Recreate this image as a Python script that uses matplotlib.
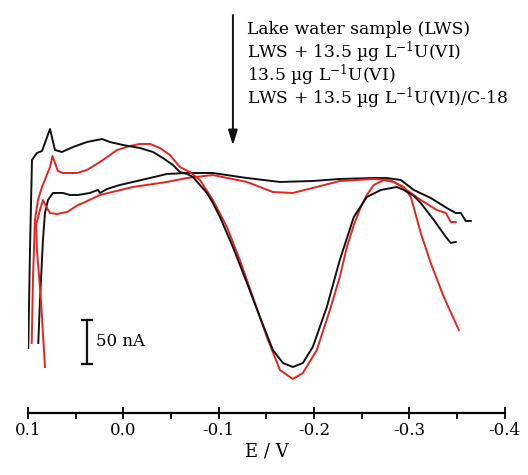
import matplotlib
matplotlib.use("Agg")
import matplotlib.pyplot as plt
from matplotlib.ticker import FixedLocator

plt.rcParams['font.family'] = ['DejaVu Serif']
plt.rcParams['mathtext.fontset'] = 'dejavuserif'
plt.rcParams['axes.unicode_minus'] = False

# ---- data (E in V, I in nA, arbitrary offset) ----
# black curve with U(VI) peak
E_lws_u = [0.0997, 0.0979, 0.0958, 0.0906, 0.0853, 0.0769, 0.0717, 0.0644, 0.0528, 0.0382,
           0.0224, 0.0140, 0.0004, -0.0174, -0.0310, -0.0415, -0.0520, -0.0593, -0.0667, -0.0730,
           -0.0803, -0.0876, -0.0939, -0.1013, -0.1149, -0.1296, -0.1432, -0.1568, -0.1673, -0.1778,
           -0.1883, -0.1987, -0.2134, -0.2270, -0.2417, -0.2553, -0.2700, -0.2868, -0.2941, -0.3046,
           -0.3119, -0.3256, -0.3382, -0.3434, -0.3486]
I_lws_u = [-111.4, 0.0, 102.3, 110.2, 112.5, 137.5, 113.6, 111.4, 117.0, 122.7,
           126.1, 122.7, 119.3, 115.9, 111.4, 104.5, 96.6, 88.6, 86.4, 83.0,
           73.9, 64.8, 53.4, 37.5, 3.4, -37.5, -76.1, -113.6, -128.4, -133.0,
           -128.4, -110.2, -64.8, -11.4, 37.5, 60.2, 68.2, 71.6, 68.2, 61.4,
           53.4, 34.1, 14.8, 8.0, 9.1]

# red curve with U(VI) peak
E_u = [0.0961, 0.0948, 0.0927, 0.0895, 0.0853, 0.0811, 0.0769, 0.0743, 0.0717, 0.0686,
       0.0633, 0.0486, 0.0382, 0.0245, 0.0067, -0.0069, -0.0174, -0.0279, -0.0384, -0.0488,
       -0.0593, -0.0698, -0.0803, -0.0939, -0.1086, -0.1222, -0.1358, -0.1505, -0.1642, -0.1778,
       -0.1883, -0.2029, -0.2166, -0.2270, -0.2344, -0.2417, -0.2491, -0.2553, -0.2627, -0.2732,
       -0.2836, -0.2941, -0.3015, -0.3119, -0.3224, -0.3361, -0.3518]
I_u = [-105.7, -34.1, 34.1, 56.8, 71.6, 83.0, 94.3, 106.8, 98.9, 89.8,
       87.5, 87.5, 90.9, 100.0, 113.6, 118.2, 120.5, 120.5, 115.9, 108.0,
       94.3, 88.6, 79.5, 56.8, 26.1, -11.4, -53.4, -98.9, -136.4, -146.6,
       -139.8, -113.6, -68.2, -30.7, 3.4, 28.4, 48.9, 62.5, 73.9, 79.5,
       77.3, 71.6, 60.2, 19.3, -14.8, -53.4, -90.9]

# black flat curve
E_lws = [0.0892, 0.0874, 0.0843, 0.0822, 0.0790, 0.0738, 0.0633, 0.0560, 0.0476, 0.0350,
         0.0298, 0.0266, 0.0245, 0.0172, 0.0036, -0.0101, -0.0279, -0.0457, -0.0667, -0.0939,
         -0.1296, -0.1642, -0.1987, -0.2270, -0.2627, -0.2763, -0.2910, -0.3046, -0.3224, -0.3392,
         -0.3486, -0.3539, -0.3591, -0.3644]
I_lws = [-105.7, -56.8, 11.4, 42.0, 56.8, 64.8, 64.8, 62.5, 62.5, 64.8,
         67.0, 68.2, 64.8, 69.3, 73.9, 77.3, 81.8, 86.4, 87.5, 87.5,
         81.8, 77.3, 78.4, 80.7, 81.8, 81.8, 79.5, 68.2, 59.1, 47.7,
         42.0, 42.0, 33.0, 33.0]

# red flat curve
E_c18 = [0.0822, 0.0864, 0.0906, 0.0916, 0.0874, 0.0843, 0.0801, 0.0769, 0.0696, 0.0591,
         0.0476, 0.0423, 0.0245, -0.0101, -0.0457, -0.0667, -0.0939, -0.1296, -0.1568, -0.1778,
         -0.1987, -0.2270, -0.2627, -0.2805, -0.2941, -0.3119, -0.3287, -0.3382, -0.3434, -0.3486]
I_c18 = [-133.0, -56.8, 0.0, 28.4, 45.5, 56.8, 47.7, 42.0, 40.9, 43.2,
         51.1, 53.4, 62.5, 71.6, 77.3, 81.8, 85.2, 77.3, 65.9, 64.8,
         70.5, 78.4, 80.7, 79.5, 70.5, 56.8, 45.5, 42.0, 31.8, 31.8]

legend_lines = [
    "Lake water sample (LWS)",
    r"LWS + 13.5 µg L$^{\mathregular{-1}}$U(VI)",
    r"13.5 µg L$^{\mathregular{-1}}$U(VI)",
    r"LWS + 13.5 µg L$^{\mathregular{-1}}$U(VI)/C-18",
]
legend_I = [245.0, 218.5, 192.5, 166.0]   # baseline positions (nA scale)

x_ticks = [0.1, 0.0, -0.1, -0.2, -0.3, -0.4]
x_tick_labels = ["0.1", "0.0", "-0.1", "-0.2", "-0.3", "-0.4"]
x_minor = [0.05, -0.05, -0.15, -0.25, -0.35]

scale_E = 0.0382
scale_I = (-129.5, -79.5)
scale_label = "50 nA"

arrow_E = -0.1149
arrow_I = (267.0, 119.0)
legend_E = -0.1296

BLACK = "#111111"
RED = "#e8231e"

fig = plt.figure(figsize=(5.28, 4.75), dpi=100)
ax = fig.add_axes([0.053, 0.1312, 0.903, 0.8688])

lw = 1.4
ax.plot(E_lws, I_lws, color=BLACK, lw=lw)
ax.plot(E_c18, I_c18, color=RED, lw=lw)
ax.plot(E_u, I_u, color=RED, lw=lw)
ax.plot(E_lws_u, I_lws_u, color=BLACK, lw=lw)

# scale bar
ax.plot([scale_E, scale_E], list(scale_I), color=BLACK, lw=1.6)
ax.plot([scale_E, scale_E], list(scale_I), color=BLACK, lw=0, marker='_', ms=9, mew=1.6)
ax.text(scale_E - 0.0095, sum(scale_I) / 2, scale_label, ha='left', va='center', fontsize=12)

# arrow
ax.annotate("", xy=(arrow_E, arrow_I[1]), xytext=(arrow_E, arrow_I[0]),
            arrowprops=dict(arrowstyle='-|>,head_length=0.9,head_width=0.28', color=BLACK,
                            lw=1.4, shrinkA=0, shrinkB=0))
for txt, yv in zip(legend_lines, legend_I):
    ax.text(legend_E, yv, txt, ha='left', va='baseline', fontsize=12.3)

ax.set_xlim(0.1, -0.4)
ax.set_ylim(-184.9, 284.1)
ax.set_xticks(x_ticks)
ax.set_xticklabels(x_tick_labels, fontsize=12)
ax.xaxis.set_minor_locator(FixedLocator(x_minor))
ax.tick_params(axis='x', which='major', direction='inout', length=8, width=1.3, pad=3)
ax.tick_params(axis='x', which='minor', direction='out', length=4, width=1.3)
ax.set_yticks([])
for s in ('top', 'left', 'right'):
    ax.spines[s].set_visible(False)
ax.spines['bottom'].set_linewidth(1.6)
ax.set_xlabel("E / V", fontsize=13, labelpad=2)

fig.savefig("out.png", dpi=100)
